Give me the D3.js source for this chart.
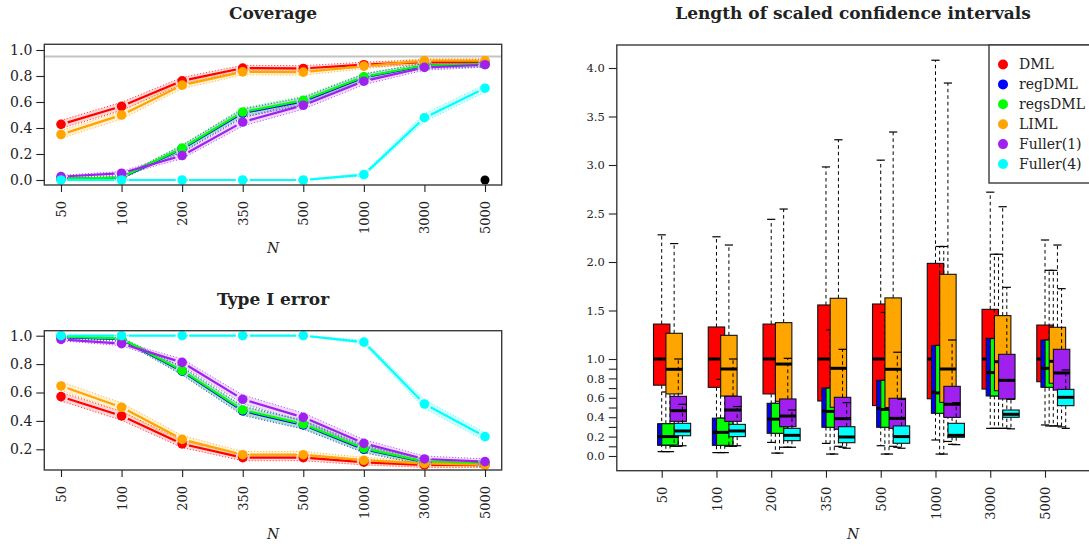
<!DOCTYPE html>
<html><head><meta charset="utf-8">
<script src="https://cdn.jsdelivr.net/npm/d3@7"></script>
<style>body{margin:0;background:#fff}</style>
</head><body><svg id="c" width="1089" height="546"></svg>
<script>
// ---------- data ----------
const sampleSizes = ["50","100","200","350","500","1000","3000","5000"];
const methods = ["DML","regDML","regsDML","LIML","Fuller(1)","Fuller(4)"];
const methodColors = ["#FF0000","#0000FF","#00FF00","#FFA500","#A020F0","#00FFFF"];

const covDML     = [0.428,0.567,0.763,0.861,0.858,0.887,0.907,0.907];
const covRegDML  = [0.008,0.018,0.240,0.515,0.605,0.790,0.878,0.890];
const covRegsDML = [0.010,0.020,0.245,0.523,0.613,0.794,0.881,0.892];
const covLIML    = [0.350,0.500,0.730,0.832,0.830,0.876,0.918,0.918];
const covFuller1 = [0.026,0.052,0.188,0.446,0.575,0.760,0.866,0.887];
const covFuller4 = [0.000,0.000,0.000,0.000,0.000,0.041,0.479,0.706];
const covExtraIndex = 7, covExtraValue = 0.0;   // black point
const nominalCoverage = 0.95;

const t1DML     = [0.571,0.435,0.238,0.141,0.141,0.109,0.090,0.090];
const t1RegDML  = [0.990,0.975,0.750,0.470,0.372,0.200,0.110,0.098];
const t1RegsDML = [0.993,0.979,0.754,0.477,0.378,0.207,0.113,0.100];
const t1LIML    = [0.646,0.496,0.270,0.162,0.162,0.123,0.100,0.090];
const t1Fuller1 = [0.974,0.944,0.812,0.552,0.425,0.242,0.132,0.113];
const t1Fuller4 = [1.000,1.000,1.000,1.000,1.000,0.955,0.519,0.289];
const nRep = 1000; // Monte Carlo repetitions for binomial CI bands

// box stats per sample size: [lower whisker, Q1, median, Q3, upper whisker]
const boxDML = [[0.045,0.73,1.0,1.36,2.28],[0.035,0.708,1.0,1.33,2.26],[0.14,0.64,1.0,1.36,2.44],[0.13,0.567,1.0,1.557,2.98],[0.106,0.52,1.0,1.567,3.05],[0.165,0.59,1.0,1.986,4.08],[0.285,0.69,1.0,1.512,2.72],[0.32,0.766,1.0,1.35,2.227]];
const boxRegDML = [[0.045,0.11,0.2,0.333,0.66],[0.035,0.11,0.244,0.39,0.79],[0.03,0.234,0.381,0.543,1.0],[0.02,0.296,0.464,0.701,1.3],[0.02,0.296,0.49,0.78,1.48],[0.02,0.44,0.657,1.14,2.16],[0.285,0.619,0.859,1.213,2.08],[0.31,0.708,0.904,1.196,1.914]];
const boxRegsDML = [[0.045,0.113,0.2,0.333,0.66],[0.035,0.11,0.244,0.39,0.79],[0.03,0.234,0.38,0.543,1.0],[0.02,0.296,0.46,0.70,1.3],[0.02,0.296,0.48,0.78,1.48],[0.02,0.44,0.65,1.14,2.16],[0.285,0.619,0.86,1.21,2.08],[0.31,0.708,0.904,1.196,1.914]];
const boxLIML = [[0.1,0.64,0.894,1.265,2.19],[0.1,0.618,0.897,1.244,2.175],[0.09,0.564,0.948,1.375,2.546],[0.1,0.502,0.904,1.626,3.26],[0.1,0.5,0.894,1.63,3.34],[0.15,0.553,0.897,1.873,3.845],[0.285,0.673,0.972,1.447,2.57],[0.31,0.75,0.976,1.327,2.175]];
const boxFuller1 = [[0.1,0.357,0.467,0.615,1.0],[0.1,0.357,0.474,0.615,1.0],[0.09,0.302,0.412,0.588,1.007],[0.09,0.275,0.385,0.605,1.1],[0.09,0.285,0.388,0.595,1.07],[0.12,0.398,0.533,0.718,1.196],[0.285,0.588,0.78,1.048,1.739],[0.3,0.68,0.856,1.1,1.725]];
const boxFuller4 = [[0.106,0.209,0.258,0.337,0.533],[0.106,0.2,0.258,0.326,0.51],[0.09,0.158,0.213,0.285,0.474],[0.08,0.137,0.196,0.302,0.55],[0.08,0.131,0.2,0.31,0.585],[0.117,0.193,0.213,0.337,0.55],[0.28,0.399,0.43,0.474,0.585],[0.285,0.519,0.605,0.687,0.887]];

const covTicks = [0,0.2,0.4,0.6,0.8,1.0];
const t1Ticks = [0.2,0.4,0.6,0.8,1.0];
const lenTicksLabeled = [0,0.2,0.4,0.6,0.8,1.0,1.5,2.0,2.5,3.0,3.5,4.0];
const lenTicksMinor = [0.1,0.3,0.5,0.7,0.9];

const covSeries = [covDML,covRegDML,covRegsDML,covLIML,covFuller1,covFuller4];
const t1Series  = [t1DML,t1RegDML,t1RegsDML,t1LIML,t1Fuller1,t1Fuller4];
const boxSeries = [boxDML,boxRegDML,boxRegsDML,boxLIML,boxFuller1,boxFuller4];

// ---------- drawing ----------
const FONT = "'DejaVu Serif', 'Liberation Serif', serif";
const svg = d3.select("#c");
const frameColor = "#3a3a3a";
const fmt = d3.format(".1f");

function txt(sel){ return sel.attr("font-family",FONT).attr("fill","#222"); }
function title(x,y,t){ txt(svg.append("text")).attr("x",x).attr("y",y).attr("text-anchor","middle")
  .attr("font-size",17).attr("font-weight","bold").text(t); }
function nLabel(x,y){ txt(svg.append("text")).attr("x",x).attr("y",y).attr("text-anchor","middle")
  .attr("font-size",14).attr("font-style","italic").text("N"); }

function yAxis(g, scale, ticks, labeled, size){
  const ax = d3.axisLeft(scale).tickValues(ticks).tickSize(8).tickPadding(4)
    .tickFormat(d => labeled.some(l=>Math.abs(l-d)<1e-9) ? fmt(d) : "");
  g.call(ax);
  g.select(".domain").remove();
  g.attr("font-family",FONT);
  g.selectAll(".tick line").attr("stroke","#222").attr("stroke-width",1.1);
  txt(g.selectAll(".tick text")).attr("font-size",size);
}
function xAxis(g, scale, vals, labelFn, size){
  const ax = d3.axisBottom(scale).tickValues(vals).tickSize(7).tickFormat(labelFn);
  g.call(ax);
  g.select(".domain").remove();
  g.attr("font-family",FONT);
  g.selectAll(".tick line").attr("stroke","#222").attr("stroke-width",1.1);
  txt(g.selectAll(".tick text")).attr("font-size",size)
    .attr("transform","rotate(-90)").attr("text-anchor","end")
    .attr("x",-16).attr("y",0).attr("dy","0.35em");
}

function linePanel(series, yDom, yRange, frame, ticks, titleText, titleY, nY, extra, refLine){
  const x = d3.scaleLinear().domain([0,7]).range([61,485]);
  const y = d3.scaleLinear().domain(yDom).range(yRange);
  const g = svg.append("g");
  if (refLine !== undefined){
    g.append("line").attr("x1",frame[0]).attr("x2",frame[1]).attr("y1",y(refLine)).attr("y2",y(refLine))
      .attr("stroke","#c4c4c4").attr("stroke-width",2);
  }
  series.forEach((vals,k)=>{
    const col = methodColors[k];
    const ci = vals.map(p => 1.96*Math.sqrt(p*(1-p)/nRep));
    const area = d3.area().x((d,i)=>x(i)).y0((d,i)=>y(d-ci[i])).y1((d,i)=>y(d+ci[i]));
    g.append("path").attr("d",area(vals)).attr("fill",col).attr("fill-opacity",0.16).attr("stroke","none");
    [-1,1].forEach(s=>{
      const ln = d3.line().x((d,i)=>x(i)).y((d,i)=>y(d+s*ci[i]));
      g.append("path").attr("d",ln(vals)).attr("fill","none").attr("stroke",col)
        .attr("stroke-width",1).attr("stroke-dasharray","1,2").attr("opacity",0.8);
    });
  });
  series.forEach((vals,k)=>{
    const col = methodColors[k];
    const gap = 7;
    for (let i=0;i<vals.length-1;i++){
      const x1=x(i),y1=y(vals[i]),x2=x(i+1),y2=y(vals[i+1]);
      const L=Math.hypot(x2-x1,y2-y1); if (L<2*gap) continue;
      const ux=(x2-x1)/L, uy=(y2-y1)/L;
      g.append("line").attr("x1",x1+ux*gap).attr("y1",y1+uy*gap).attr("x2",x2-ux*gap).attr("y2",y2-uy*gap)
        .attr("stroke",col).attr("stroke-width",2.2);
    }
    g.selectAll(null).data(vals).enter().append("circle")
      .attr("cx",(d,i)=>x(i)).attr("cy",d=>y(d)).attr("r",4.8).attr("fill",col);
  });
  if (extra){
    g.append("circle").attr("cx",x(extra[0])).attr("cy",y(extra[1])).attr("r",4.5).attr("fill","#000");
  }
  svg.append("rect").attr("x",frame[0]).attr("y",frame[2]).attr("width",frame[1]-frame[0]).attr("height",frame[3]-frame[2])
    .attr("fill","none").attr("stroke",frameColor).attr("stroke-width",1.4);
  yAxis(svg.append("g").attr("transform",`translate(${frame[0]},0)`), y, ticks, ticks, 14);
  xAxis(svg.append("g").attr("transform",`translate(0,${frame[3]})`), x, d3.range(sampleSizes.length), i=>sampleSizes[i], 13);
  title(273,titleY,titleText);
  nLabel(273,nY);
}

linePanel(covSeries,[0,1],[180,50],[44.3,501.7,44.3,185],covTicks,"Coverage",19,253,[covExtraIndex,covExtraValue],nominalCoverage);
linePanel(t1Series,[0.2,1.0],[449.3,335.7],[44.3,501.7,330.7,470],t1Ticks,"Type I error",305,539);

// ---------- box plot panel ----------
const xR = d3.scaleLinear().domain([1,8]).range([661.7,1045]);
const yR = d3.scaleLinear().domain([0,4]).range([456,68]);
const boxW = 0.3, boxStep = 0.0757;
const gb = svg.append("g");
for (let i=0;i<sampleSizes.length;i++){
  boxSeries.forEach((s,k)=>{
    const [lo,q1,md,q3,hi] = s[i];
    const cx = xR(i+1+k*boxStep);
    const hw = (xR(1+boxW)-xR(1))/2;
    const gg = gb.append("g");
    [[q3,hi],[q1,lo]].forEach(([a,b])=>{
      gg.append("line").attr("x1",cx).attr("x2",cx).attr("y1",yR(a)).attr("y2",yR(b))
        .attr("stroke","#000").attr("stroke-width",1).attr("stroke-dasharray","3.5,3");
      gg.append("line").attr("x1",cx-hw/2).attr("x2",cx+hw/2).attr("y1",yR(b)).attr("y2",yR(b))
        .attr("stroke","#000").attr("stroke-width",1.2);
    });
    gg.append("rect").attr("x",cx-hw).attr("width",2*hw).attr("y",yR(q3)).attr("height",yR(q1)-yR(q3))
      .attr("fill",methodColors[k]).attr("stroke","#111").attr("stroke-width",1.1);
    gg.append("line").attr("x1",cx-hw).attr("x2",cx+hw).attr("y1",yR(md)).attr("y2",yR(md))
      .attr("stroke","#000").attr("stroke-width",3);
  });
}
const rx0 = xR(0.18), rx1 = xR(8.95);
svg.append("rect").attr("x",rx0).attr("y",45).attr("width",rx1-rx0).attr("height",470.7-45)
  .attr("fill","none").attr("stroke",frameColor).attr("stroke-width",1.4);
yAxis(svg.append("g").attr("transform",`translate(${rx0},0)`), yR, lenTicksLabeled.concat(lenTicksMinor), lenTicksLabeled, 11.5);
xAxis(svg.append("g").attr("transform","translate(0,470.7)"), xR, d3.range(1,9), i=>sampleSizes[i-1], 13);
title(853,19,"Length of scaled confidence intervals");
nLabel(853,539);

// legend
const lg = svg.append("g");
lg.append("rect").attr("x",989).attr("y",45).attr("width",120).attr("height",138)
  .attr("fill","#fff").attr("stroke",frameColor).attr("stroke-width",1.4);
methods.forEach((m,k)=>{
  const yy = 64.5 + k*19.9;
  lg.append("circle").attr("cx",1003).attr("cy",yy).attr("r",5).attr("fill",methodColors[k]);
  txt(lg.append("text")).attr("x",1019).attr("y",yy).attr("dy","0.35em").attr("font-size",14).text(m);
});
</script></body></html>
